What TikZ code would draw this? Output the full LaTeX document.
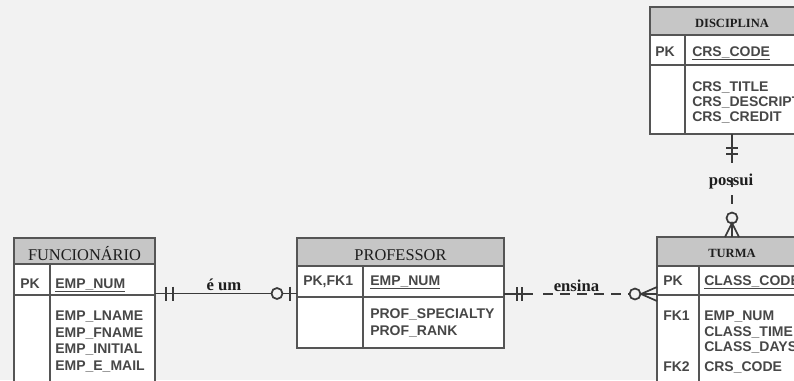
\documentclass[tikz,border=0pt]{standalone}
\usepackage{fontspec}
\setmainfont{Liberation Serif}
\newfontfamily\attrfont{Liberation Sans}
\usetikzlibrary{fit}

\definecolor{bgc}{HTML}{F2F2F2}
\definecolor{hdrc}{HTML}{C6C6C6}
\definecolor{edgec}{HTML}{555555}
\definecolor{attrc}{HTML}{474747}
\definecolor{inkc}{HTML}{1E1E1E}
\definecolor{relc}{HTML}{3A3A3A}

\begin{document}
\begin{tikzpicture}[x=0.75pt,y=-0.75pt,
  tbl/.style={draw=edgec, line width=1.4pt, fill=white, inner sep=0pt, outer sep=0pt},
  hdr/.style={draw=edgec, line width=1.4pt, fill=hdrc, inner sep=0pt, outer sep=0pt},
  sepline/.style={draw=edgec, line width=1.4pt},
  bigtitle/.style={text=inkc, font=\fontsize{12.3}{14}\selectfont, inner sep=0pt, anchor=base},
  smalltitle/.style={text=inkc, font=\bfseries\fontsize{9.4}{12}\selectfont, inner sep=0pt, anchor=base},
  attr/.style={text=attrc, font=\attrfont\bfseries\fontsize{10.5}{12}\selectfont, inner sep=0pt, anchor=base west},
  rel/.style={draw=relc, line width=1.3pt},
  weak/.style={rel, dash pattern=on 7.5pt off 5.25pt},
  lbl/.style={text=inkc, inner sep=0pt, anchor=base},
]
\useasboundingbox (0,0) rectangle (794,380);
\fill[bgc] (0,0) rectangle (794,380);
\clip (0,0) rectangle (794,380);

% ---------- FUNCIONARIO ----------
\node[tbl, fit={(14,238) (155,386)}] (func) {};
\node[hdr, fit={(14,238) (155,264)}] (func-h) {};
\draw[sepline] (14,295) -- (155,295);
\draw[sepline] (50,264) -- (50,386);
\node[bigtitle] (func-t) at (func-h.center |- 0,260) {FUNCIONÁRIO};
\node[attr] (func-pk) at (20,288) {PK};
\node[attr] (func-k) at (55,288) {\underline{EMP\_NUM}};
\node[attr] (func-a1) at (55,320.5) {EMP\_LNAME};
\node[attr] (func-a2) at (55,337) {EMP\_FNAME};
\node[attr] (func-a3) at (55,353.5) {EMP\_INITIAL};
\node[attr] (func-a4) at (55,370) {EMP\_E\_MAIL};

% ---------- PROFESSOR ----------
\node[tbl, fit={(297,238) (504,348)}] (prof) {};
\node[hdr, fit={(297,238) (504,266)}] (prof-h) {};
\draw[sepline] (297,297) -- (504,297);
\draw[sepline] (363,266) -- (363,348);
\node[bigtitle] (prof-t) at (prof-h.center |- 0,260) {PROFESSOR};
\node[attr] (prof-pk) at (303,285) {PK,FK1};
\node[attr] (prof-k) at (370,285) {\underline{EMP\_NUM}};
\node[attr] (prof-a1) at (370,318.5) {PROF\_SPECIALTY};
\node[attr] (prof-a2) at (370,335.5) {PROF\_RANK};

% ---------- TURMA ----------
\node[tbl, fit={(657,237) (807,386)}] (turma) {};
\node[hdr, fit={(657,237) (807,266)}] (turma-h) {};
\draw[sepline] (657,295) -- (807,295);
\draw[sepline] (699,266) -- (699,386);
\node[smalltitle] (turma-t) at (turma-h.center |- 0,257) {TURMA};
\node[attr] (turma-pk) at (663,285) {PK};
\node[attr] (turma-k) at (704,285) {\underline{CLASS\_CODE}};
\node[attr] (turma-fk1) at (663,320) {FK1};
\node[attr] (turma-a1) at (704,320) {EMP\_NUM};
\node[attr] (turma-a2) at (704,336) {CLASS\_TIME};
\node[attr] (turma-a3) at (704,351.5) {CLASS\_DAYS};
\node[attr] (turma-fk2) at (663,371.5) {FK2};
\node[attr] (turma-a4) at (704,371.5) {CRS\_CODE};

% ---------- DISCIPLINA ----------
\node[tbl, fit={(650,7) (814,134)}] (disc) {};
\node[hdr, fit={(650,7) (814,35)}] (disc-h) {};
\draw[sepline] (650,65) -- (814,65);
\draw[sepline] (685,35) -- (685,134);
\node[smalltitle] (disc-t) at (disc-h.center |- 0,27) {DISCIPLINA};
\node[attr] (disc-pk) at (655,56) {PK};
\node[attr] (disc-k) at (692,56) {\underline{CRS\_CODE}};
\node[attr] (disc-a1) at (692,91) {CRS\_TITLE};
\node[attr] (disc-a2) at (692,106) {CRS\_DESCRIPTION};
\node[attr] (disc-a3) at (692,121) {CRS\_CREDIT};

% ---------- relationship: e um (1:1, optional) ----------
\coordinate (eA) at (func.east |- 0,293.5);
\coordinate (eB) at (prof.west |- 0,293.5);
\draw[rel] (eA) -- (eB);
\draw[rel] (eA) ++(11,-7) -- ++(0,14);
\draw[rel] (eA) ++(18,-7) -- ++(0,14);
\draw[rel] (eB) ++(-7,-7) -- ++(0,14);
\draw[rel, fill=bgc] (eB) ++(-20,0) circle[radius=5.5];
\node[lbl, font=\bfseries\fontsize{12.5}{14}\selectfont] (eum) at (224,290) {é um};

% ---------- relationship: ensina (1:N, weak) ----------
\coordinate (nA) at (prof.east |- 0,294);
\coordinate (nB) at (turma.west |- 0,294);
\draw[rel] (nA) -- ++(29,0);
\draw[rel] (nA) ++(13,-7) -- ++(0,14);
\draw[rel] (nA) ++(18,-7) -- ++(0,14);
\draw[weak] (nA) ++(39,0) -- ++(88,0);
\draw[rel, fill=bgc] (nB) ++(-22,0) circle[radius=5.5];
\draw[rel] (nB) ++(0,-7) -- ++(-16,7) -- ++(16,7);
\draw[rel] (nB) -- ++(-16,0);
\node[lbl, font=\bfseries\fontsize{12.5}{15}\selectfont] (ensina) at (576.5,291) {ensina};

% ---------- relationship: possui (1:N, weak) ----------
\coordinate (pA) at (disc.south);
\coordinate (pB) at (turma.north);
\draw[rel] (pA) -- ++(0,29);
\draw[rel] (pA) ++(-6,14) -- ++(12,0);
\draw[rel] (pA) ++(-6,20) -- ++(12,0);
\draw[rel, dash pattern=on 6.75pt off 6pt] (pA) ++(0,44) -- ++(0,35);
\node[lbl, font=\bfseries\fontsize{12.5}{15}\selectfont] (possui) at (731,185) {possui};
\draw[rel, fill=bgc] (pB) ++(0,-19) circle[radius=5.5];
\draw[rel] (pB) ++(-7,0) -- ++(7,-14) -- ++(7,14);
\draw[rel] (pB) -- ++(0,-14);
\end{tikzpicture}
\end{document}
